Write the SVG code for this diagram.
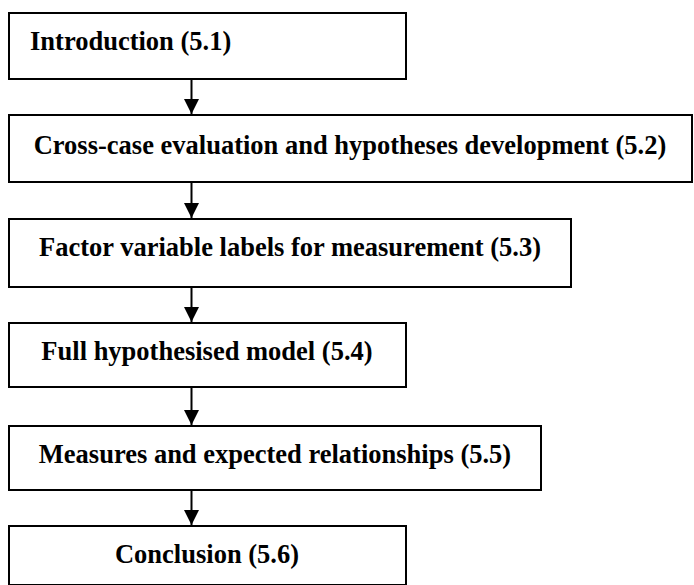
<svg xmlns="http://www.w3.org/2000/svg" width="694" height="585" viewBox="0 0 694 585">
  <defs>
    <marker id="arrowhead" markerUnits="userSpaceOnUse" markerWidth="15" markerHeight="15" refX="15" refY="7.5" orient="auto">
      <path d="M0,0 L15,7.5 L0,15 Z" fill="#000"/>
    </marker>
    <style>
      .box { fill: #fff; stroke: #000; stroke-width: 2; }
      .label { font-family: "Liberation Serif", "Times New Roman", serif; font-weight: bold; font-size: 26.5px; fill: #000; }
      .mid { text-anchor: middle; }
      .link { stroke: #000; stroke-width: 2; fill: none; marker-end: url(#arrowhead); }
    </style>
  </defs>
  <rect width="694" height="585" fill="#fff"/>

  <!-- chapter sections -->
  <g id="intro">
    <rect class="box" x="9" y="13" width="397" height="66"/>
    <text class="label" x="30" y="50">Introduction (5.1)</text>
  </g>
  <g id="cross-case">
    <rect class="box" x="9" y="115" width="683" height="67"/>
    <text class="label mid" x="350" y="154">Cross-case evaluation and hypotheses development (5.2)</text>
  </g>
  <g id="factor-labels">
    <rect class="box" x="9" y="219" width="562" height="68"/>
    <text class="label mid" x="290" y="256">Factor variable labels for measurement (5.3)</text>
  </g>
  <g id="full-model">
    <rect class="box" x="9" y="323" width="397" height="64"/>
    <text class="label mid" x="207" y="360">Full hypothesised model (5.4)</text>
  </g>
  <g id="measures">
    <rect class="box" x="9" y="426" width="532" height="64"/>
    <text class="label mid" x="275" y="463">Measures and expected relationships (5.5)</text>
  </g>
  <g id="conclusion">
    <rect class="box" x="9" y="526" width="397" height="59"/>
    <text class="label mid" x="207" y="563">Conclusion (5.6)</text>
  </g>

  <!-- flow arrows -->
  <g id="connectors">
    <line class="link" x1="191.5" y1="80" x2="191.5" y2="114"/>
    <line class="link" x1="191.5" y1="183" x2="191.5" y2="218"/>
    <line class="link" x1="191.5" y1="288" x2="191.5" y2="322"/>
    <line class="link" x1="191.5" y1="388" x2="191.5" y2="425"/>
    <line class="link" x1="191.5" y1="491" x2="191.5" y2="525"/>
  </g>
</svg>
